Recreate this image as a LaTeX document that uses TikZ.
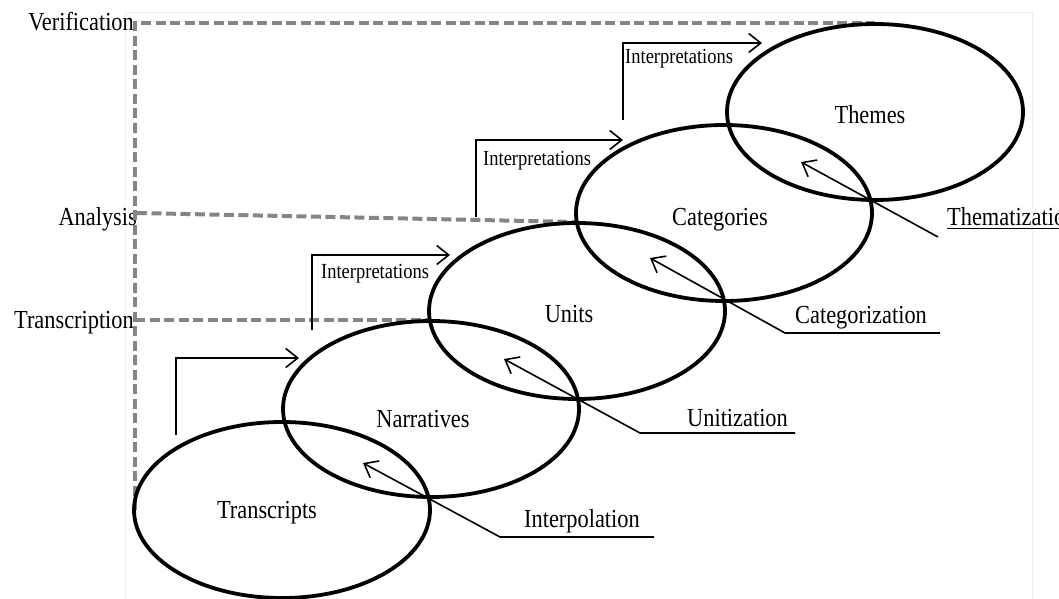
\documentclass[tikz,border=0pt]{standalone}
\usepackage{fontspec}
\setmainfont{Liberation Serif}[FakeStretch=0.86]
\usetikzlibrary{shapes.geometric,arrows.meta}
\begin{document}
\begin{tikzpicture}[x=1pt,y=-1pt,
  stage/.style={draw,ellipse,line width=3.8pt,minimum width=296pt,minimum height=176pt,inner sep=0pt},
  big/.style={font=\fontsize{26}{30}\selectfont,inner sep=0pt},
  small/.style={font=\fontsize{21.5}{25}\selectfont,inner sep=0pt},
  guide/.style={draw=black!48,line width=4pt,dash pattern=on 10pt off 4.5pt},
  flow/.style={line width=1.6pt,-{Straight Barb[length=12pt,width=19pt,line width=1.6pt]}},
  thinline/.style={line width=1.6pt}]
\useasboundingbox (0,0) rectangle (1059,599);
\fill[white] (0,0) rectangle (1059,599);
\draw[black!6,line width=1pt] (125,599) -- (125,13) -- (1032,13) -- (1032,599);

% left labels
\node[big,anchor=base east] (lver) at (134,31) {Verification};
\node[big,anchor=base east] (lana) at (137,225) {Analysis};
\node[big,anchor=base east] (ltra) at (134,328) {Transcription};

% guide lines
\coordinate (vtop) at (135,23);
\coordinate (vbot) at (135,510);
\coordinate (astart) at (137,213);
\coordinate (tstart) at (135,320);
\coordinate (tend) at (430,320);
\coordinate (vend) at (875,23);
\coordinate (aend) at (577,222);
\draw[guide] (vbot) -- (vtop) -- (vend);
\draw[guide] (astart) -- (aend);
\draw[guide] (tstart) -- (tend);

% stages
\node[stage] (tr) at (282,510) {};
\node[stage] (na) at (431,409) {};
\node[stage] (un) at (577,311) {};
\node[stage] (ca) at (724,213) {};
\node[stage] (th) at (875,112) {};

% stage labels
\node[big,anchor=base] (ltr) at (267,518) {Transcripts};
\node[big,anchor=base] (lna) at (423,427) {Narratives};
\node[big,anchor=base] (lun) at (569,322) {Units};
\node[big,anchor=base] (lca) at (720,225) {Categories};
\node[big,anchor=base] (lth) at (870,124) {Themes};

% interpretation arrows
\coordinate (e1s) at (176,435); \coordinate (e1t) at (299,358);
\coordinate (e2s) at (312,330); \coordinate (e2t) at (450,255);
\coordinate (e3s) at (476,217); \coordinate (e3t) at (623,140);
\coordinate (e4s) at (623,120); \coordinate (e4t) at (762,43);
\draw[flow] (e1s) |- (e1t);
\draw[flow] (e2s) |- (e2t);
\draw[flow] (e3s) |- (e3t);
\draw[flow] (e4s) |- (e4t);
\node[small,anchor=base west] (i2) at (321,278) {Interpretations};
\node[small,anchor=base west] (i3) at (483,165) {Interpretations};
\node[small,anchor=base west] (i4) at (625,64) {Interpretations};

% process arrows
\coordinate (p1a) at (654,537); \coordinate (p1b) at (500,537); \coordinate (p1t) at (363,463);
\coordinate (p2a) at (795,433); \coordinate (p2b) at (640,433); \coordinate (p2t) at (504,359);
\coordinate (p3a) at (940,333); \coordinate (p3b) at (785,333); \coordinate (p3t) at (650,258);
\coordinate (p4b) at (938,237); \coordinate (p4t) at (801,162);
\draw[flow] (p1a) -- (p1b) -- (p1t);
\draw[flow] (p2a) -- (p2b) -- (p2t);
\draw[flow] (p3a) -- (p3b) -- (p3t);
\draw[flow] (p4b) -- (p4t);
\node[big,anchor=base west] (lip) at (524,527) {Interpolation};
\node[big,anchor=base west] (lui) at (687,426) {Unitization};
\node[big,anchor=base west] (lcz) at (795,323) {Categorization};
\node[big,anchor=base west] (ltz) at (947,225) {Thematization};
\draw[thinline] (947,228.5) -- (ltz.base east |- 0,228.5);
\end{tikzpicture}
\end{document}
